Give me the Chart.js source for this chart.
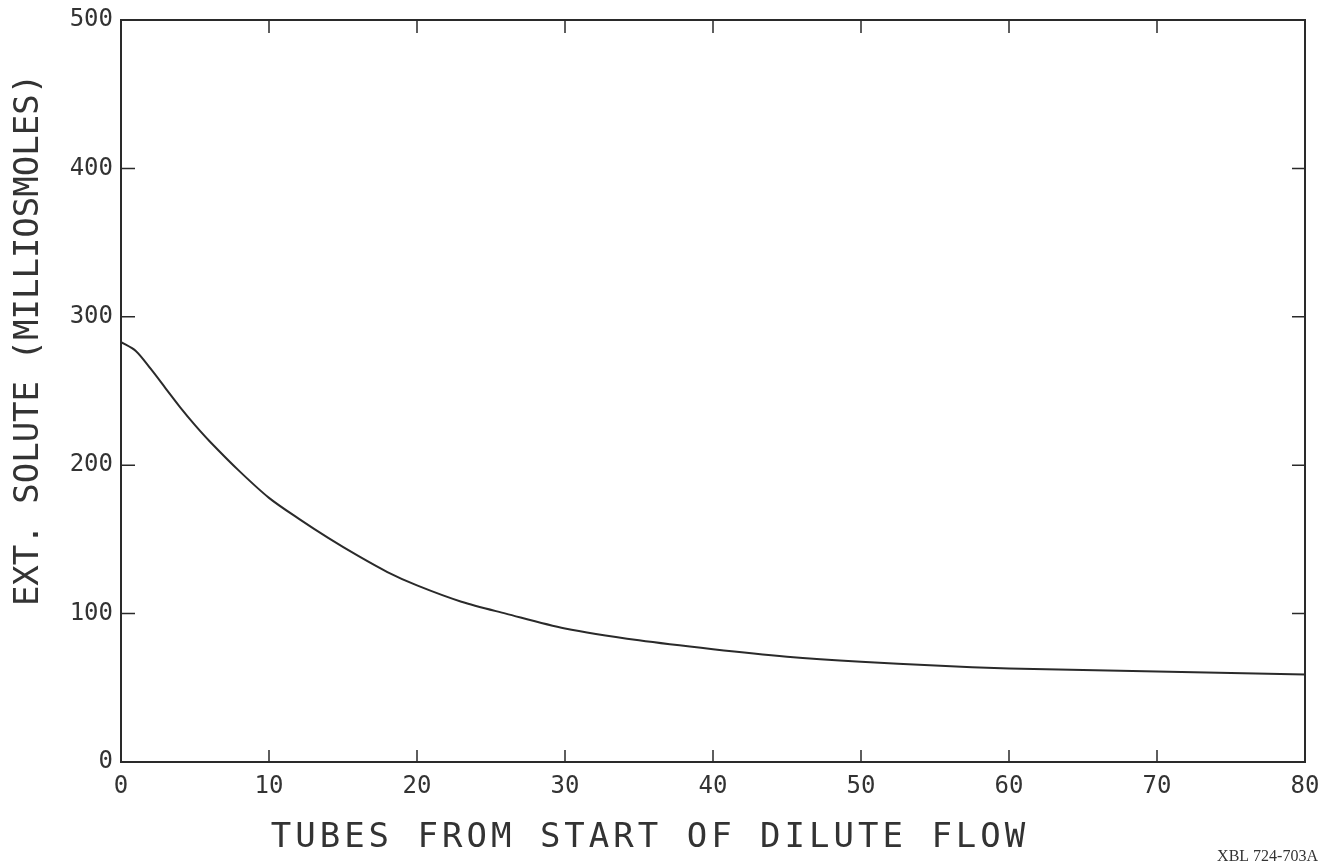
<!DOCTYPE html>
<html>
<head>
<meta charset="utf-8">
<title>Ext. solute vs tubes</title>
<script src="https://cdn.jsdelivr.net/npm/chart.js@4/dist/chart.umd.min.js"></script>
<style>
  body { margin: 0; background: #fff; }
  #wrap { width: 1327px; height: 866px; position: relative; }
</style>
</head>
<body>
<div id="wrap"><canvas id="soluteChart"></canvas></div>
<script>
// Tube number and external solute (milliosmoles)
const tubes = [0, 1, 2, 3, 4, 5, 6, 8, 10, 12, 14, 16, 18, 20, 23, 26, 30, 35, 40, 45, 50, 55, 60, 65, 70, 75, 80];
const solute = [283, 277, 265, 252, 239, 227, 216, 196, 178, 164, 151, 139, 128, 119, 108, 100, 90, 82, 76, 71, 67.5, 65, 63, 62, 61, 60, 59];

const xTitle = 'TUBES FROM START OF DILUTE FLOW';
const yTitle = 'EXT. SOLUTE (MILLIOSMOLES)';
const plateLabel = 'XBL 724-703A';

const ink = '#2a2a2a';
const mono = '"DejaVu Sans Mono", monospace';

// Box frame, inward tick marks and titles
const framePlugin = {
    id: 'frame',
    afterDraw(chart) {
        const { ctx, chartArea: a, scales: { x, y } } = chart;
        ctx.save();
        ctx.strokeStyle = ink;
        ctx.lineWidth = 2;
        ctx.strokeRect(a.left, a.top, a.right - a.left, a.bottom - a.top);

        ctx.lineWidth = 1.5;
        ctx.beginPath();
        x.ticks.forEach(t => {
            if (t.value <= x.min || t.value >= x.max) return;
            const px = x.getPixelForValue(t.value);
            ctx.moveTo(px, a.bottom); ctx.lineTo(px, a.bottom - 12);
            ctx.moveTo(px, a.top); ctx.lineTo(px, a.top + 13);
        });
        y.ticks.forEach(t => {
            if (t.value <= y.min || t.value >= y.max) return;
            const py = y.getPixelForValue(t.value);
            ctx.moveTo(a.left, py); ctx.lineTo(a.left + 14, py);
            ctx.moveTo(a.right, py); ctx.lineTo(a.right - 13, py);
        });
        ctx.stroke();

        ctx.fillStyle = '#333';
        ctx.font = '34px ' + mono;
        ctx.textBaseline = 'middle';
        ctx.textAlign = 'center';
        ctx.letterSpacing = '4px';
        ctx.fillText(xTitle, 650, 838);

        ctx.save();
        ctx.translate(29, 340);
        ctx.rotate(-Math.PI / 2);
        ctx.letterSpacing = '0px';
        ctx.fillText(yTitle, 0, 0);
        ctx.restore();

        ctx.letterSpacing = '0px';
        ctx.font = '16px "Liberation Serif", serif';
        ctx.textAlign = 'right';
        ctx.fillText(plateLabel, 1318, 857);
        ctx.restore();
    }
};

const ctx = document.getElementById('soluteChart').getContext('2d');
const soluteChart = new Chart(ctx, {
    type: 'line',
    data: {
        datasets: [{
            data: tubes.map((t, i) => ({ x: t, y: solute[i] })),
            borderColor: ink,
            borderWidth: 2,
            pointRadius: 0,
            tension: 0.3,
            fill: false
        }]
    },
    options: {
        responsive: true,
        maintainAspectRatio: false,
        animation: false,
        layout: { padding: { top: 20, right: 22, left: 0, bottom: 0 } },
        plugins: { legend: { display: false }, tooltip: { enabled: false } },
        scales: {
            x: {
                type: 'linear',
                min: 0, max: 80,
                grid: { display: false, drawTicks: false },
                border: { display: false },
                ticks: { stepSize: 10, padding: 10, color: '#333', font: { family: mono, size: 24 } },
                afterFit: scale => {
                    scale.height = 104;
                    scale.paddingLeft = 0;
                    scale.paddingRight = 0;
                }
            },
            y: {
                min: 0, max: 500,
                grid: { display: false, drawTicks: false },
                border: { display: false },
                ticks: { stepSize: 100, padding: 8, color: '#333', font: { family: mono, size: 24 } },
                afterFit: scale => {
                    scale.width = 121;
                    scale.paddingTop = 0;
                    scale.paddingBottom = 0;
                }
            }
        }
    },
    plugins: [framePlugin]
});
</script>
</body>
</html>
